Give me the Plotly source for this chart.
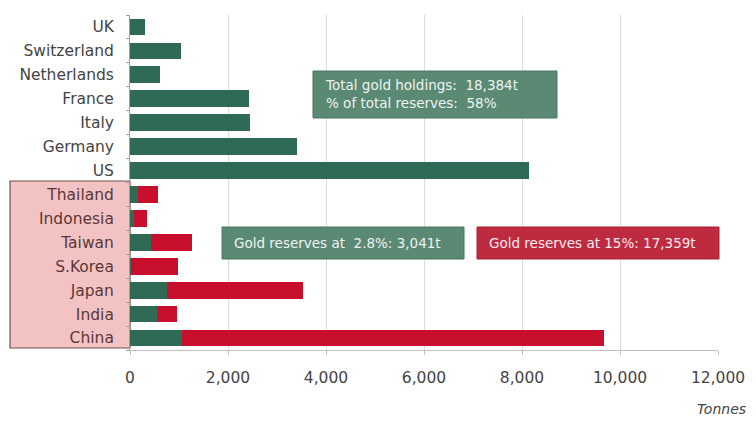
import plotly.graph_objects as go

# Gold holdings (tonnes)
west_countries = ["UK", "Switzerland", "Netherlands", "France", "Italy", "Germany", "US"]
west_holdings = [310, 1040, 612, 2435, 2452, 3401, 8134]

asia_countries = ["Thailand", "Indonesia", "Taiwan", "S.Korea", "Japan", "India", "China"]
asia_holdings = [153, 73, 424, 14, 765, 558, 1054]
asia_at_15pct = [562, 356, 1275, 988, 3531, 968, 9679]

x_ticks = [0, 2000, 4000, 6000, 8000, 10000, 12000]
x_tick_labels = ["0", "2,000", "4,000", "6,000", "8,000", "10,000", "12,000"]

GREEN = "#2f6a55"
RED = "#c8102e"
BOX_GREEN = "#5b8a74"
BOX_RED = "#be2a40"
FONT = "DejaVu Sans"

categories = west_countries + asia_countries
asia_extra = [t - h for t, h in zip(asia_at_15pct, asia_holdings)]

fig = go.Figure()
fig.add_trace(go.Bar(
    y=categories, x=west_holdings + asia_holdings, orientation="h",
    marker=dict(color=GREEN, line=dict(width=0)), hoverinfo="x+y",
))
fig.add_trace(go.Bar(
    y=asia_countries, x=asia_extra, orientation="h",
    marker=dict(color=RED, line=dict(width=0)), hoverinfo="x+y",
))

tick_text = [c for c in west_countries] + \
    ['<span style="color:#5a3838">%s</span>' % c for c in asia_countries]

W, H = 756, 424
ML, MR, MT, MB = 130, 38, 15, 74
PW, PH = W - ML - MR, H - MT - MB


def px(x):
    return (x - ML) / PW


def py(y):
    return (H - MB - y) / PH


shapes = [
    # highlight panel behind the Asian country labels
    dict(type="rect", xref="paper", yref="paper",
         x0=px(10), x1=px(130), y0=py(348), y1=py(181),
         fillcolor="#f3c3c3", line=dict(color="#6e5050", width=1.2), layer="below"),
    dict(type="rect", xref="paper", yref="paper",
         x0=px(313), x1=px(557), y0=py(118), y1=py(71),
         fillcolor=BOX_GREEN, line=dict(color="#4a7561", width=1)),
    dict(type="rect", xref="paper", yref="paper",
         x0=px(222), x1=px(464), y0=py(259), y1=py(227),
         fillcolor=BOX_GREEN, line=dict(color="#4a7561", width=1)),
    dict(type="rect", xref="paper", yref="paper",
         x0=px(477), x1=px(719), y0=py(259), y1=py(227),
         fillcolor=BOX_RED, line=dict(color="#a82034", width=1)),
]

box_font = dict(family=FONT, size=13.5, color="#eef3f0")
annotations = [
    dict(xref="paper", yref="paper", x=px(323), y=py(94), xanchor="left", yanchor="middle",
         align="left", showarrow=False, font=box_font,
         text="Total gold holdings:  18,384t<br>% of total reserves:  58%"),
    dict(xref="paper", yref="paper", x=px(232), y=py(243), xanchor="left", yanchor="middle",
         showarrow=False, font=box_font, text="Gold reserves at  2.8%: 3,041t"),
    dict(xref="paper", yref="paper", x=px(487), y=py(243), xanchor="left", yanchor="middle",
         showarrow=False, font=dict(family=FONT, size=13.5, color="#fbecee"),
         text="Gold reserves at 15%: 17,359t"),
    dict(xref="paper", yref="paper", x=px(748), y=py(409), xanchor="right", yanchor="middle",
         showarrow=False, font=dict(family=FONT, size=14, color="#444444"),
         text="<i>Tonnes</i>"),
]

fig.update_layout(
    width=W, height=H,
    margin=dict(l=ML, r=MR, t=MT, b=MB, pad=0),
    barmode="stack", bargap=0.3,
    plot_bgcolor="white", paper_bgcolor="white",
    showlegend=False,
    font=dict(family=FONT, size=15.5, color="#444444"),
    shapes=shapes, annotations=annotations,
    xaxis=dict(
        range=[0, 12000], tickvals=x_ticks, ticktext=x_tick_labels,
        showgrid=True, gridcolor="#dcdcdc", gridwidth=1, zeroline=False,
        showline=True, linecolor="#c0c0c0", linewidth=1,
        ticks="outside", ticklen=4, tickcolor="#c0c0c0",
        ticklabelstandoff=9,
    ),
    yaxis=dict(
        categoryorder="array", categoryarray=categories,
        tickvals=categories, ticktext=tick_text,
        range=[len(categories) - 0.5, -0.5],
        showgrid=False, zeroline=False,
        showline=True, linecolor="#a0a0a0", linewidth=1,
        ticks="outside", ticklen=3, tickcolor="#a0a0a0", tickson="boundaries",
        ticklabelstandoff=12,
    ),
)

fig.write_html("out.html")
